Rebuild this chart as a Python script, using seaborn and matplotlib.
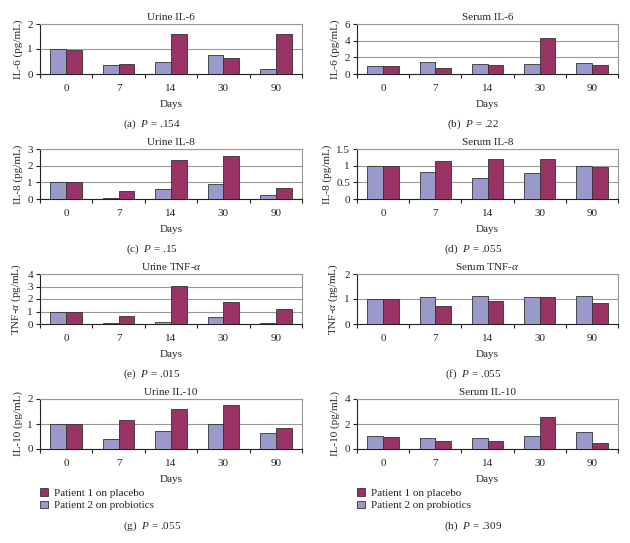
import matplotlib
matplotlib.use('Agg')
import matplotlib.pyplot as plt
import seaborn as sns
import pandas as pd
from matplotlib.ticker import FixedLocator, FuncFormatter

days = ['0', '7', '14', '30', '90']
placebo_label = 'Patient 1 on placebo'
probiotic_label = 'Patient 2 on probiotics'

# values (pg/mL, normalised to day 0)
urine_il6_probiotic = [1.00, 0.36, 0.49, 0.77, 0.20]
urine_il6_placebo = [0.98, 0.41, 1.61, 0.65, 1.61]
serum_il6_probiotic = [1.00, 1.44, 1.20, 1.20, 1.32]
serum_il6_placebo = [1.00, 0.72, 1.04, 4.30, 1.04]
urine_il8_probiotic = [1.00, 0.08, 0.60, 0.93, 0.22]
urine_il8_placebo = [1.00, 0.50, 2.35, 2.57, 0.66]
serum_il8_probiotic = [1.00, 0.82, 0.63, 0.79, 1.00]
serum_il8_placebo = [1.00, 1.14, 1.20, 1.20, 0.95]
urine_tnf_probiotic = [1.00, 0.07, 0.18, 0.55, 0.07]
urine_tnf_placebo = [1.00, 0.68, 3.02, 1.76, 1.24]
serum_tnf_probiotic = [1.00, 1.07, 1.13, 1.07, 1.13]
serum_tnf_placebo = [1.00, 0.72, 0.91, 1.07, 0.84]
urine_il10_probiotic = [1.00, 0.42, 0.73, 1.00, 0.64]
urine_il10_placebo = [1.00, 1.16, 1.62, 1.78, 0.84]
serum_il10_probiotic = [1.01, 0.88, 0.88, 1.01, 1.37]
serum_il10_placebo = [1.00, 0.63, 0.63, 2.60, 0.49]

panels = [
    ('Urine IL-6', 'IL-6 (pg/mL)', [0, 1, 2], urine_il6_probiotic, urine_il6_placebo, '(a)', '.154'),
    ('Serum IL-6', 'IL-6 (pg/mL)', [0, 2, 4, 6], serum_il6_probiotic, serum_il6_placebo, '(b)', '.22'),
    ('Urine IL-8', 'IL-8 (pg/mL)', [0, 1, 2, 3], urine_il8_probiotic, urine_il8_placebo, '(c)', '.15'),
    ('Serum IL-8', 'IL-8 (pg/mL)', [0, 0.5, 1, 1.5], serum_il8_probiotic, serum_il8_placebo, '(d)', '.055'),
    (r'Urine TNF-$\alpha$', r'TNF-$\alpha$ (pg/mL)', [0, 1, 2, 3, 4], urine_tnf_probiotic, urine_tnf_placebo, '(e)', '.015'),
    (r'Serum TNF-$\alpha$', r'TNF-$\alpha$ (pg/mL)', [0, 1, 2], serum_tnf_probiotic, serum_tnf_placebo, '(f)', '.055'),
    ('Urine IL-10', 'IL-10 (pg/mL)', [0, 1, 2], urine_il10_probiotic, urine_il10_placebo, '(g)', '.055'),
    ('Serum IL-10', 'IL-10 (pg/mL)', [0, 2, 4], serum_il10_probiotic, serum_il10_placebo, '(h)', '.309'),
]

colors = {probiotic_label: '#9999cc', placebo_label: '#993366'}

sns.set_style('white')
plt.rcParams['font.family'] = ['Liberation Serif', 'DejaVu Serif']
plt.rcParams['mathtext.fontset'] = 'custom'
plt.rcParams['mathtext.rm'] = 'Liberation Serif'
plt.rcParams['mathtext.it'] = 'Liberation Serif:italic'
plt.rcParams['font.size'] = 8

W, H = 630, 543
fig = plt.figure(figsize=(W / 100, H / 100), dpi=100)

col_left = [40, 357]
col_width = [262, 261]
col_caption = [152, 473]
row_bottom = [74, 199, 324, 449]
ax_h = 50

for i, (title, ylabel, yticks, probio, placebo, tag, pval) in enumerate(panels):
    row, col = divmod(i, 2)
    left = col_left[col] / W
    bottom = 1 - row_bottom[row] / H
    ax = fig.add_axes([left, bottom, col_width[col] / W, ax_h / H])

    df = pd.DataFrame({
        'day': days * 2,
        'patient': [probiotic_label] * 5 + [placebo_label] * 5,
        'value': probio + placebo,
    })
    sns.barplot(data=df, x='day', y='value', hue='patient', order=days,
                hue_order=[probiotic_label, placebo_label], palette=colors,
                saturation=1, width=0.6, edgecolor='#333333', linewidth=0.6,
                ax=ax, legend=(row == 3), zorder=3)

    ax.set_xlim(-0.5, 4.5)
    ax.set_ylim(yticks[0], yticks[-1])
    ax.yaxis.set_major_locator(FixedLocator(yticks))
    ax.yaxis.set_major_formatter(FuncFormatter(lambda v, p: '%g' % v))
    ax.grid(axis='y', color='#999999', linewidth=0.8, zorder=0)
    ax.set_axisbelow(True)

    for s in ['top', 'right']:
        ax.spines[s].set_color('#999999')
        ax.spines[s].set_linewidth(0.8)
    for s in ['left', 'bottom']:
        ax.spines[s].set_color('#222222')
        ax.spines[s].set_linewidth(0.8)

    ax.xaxis.set_minor_locator(FixedLocator([-0.5, 0.5, 1.5, 2.5, 3.5, 4.5]))
    ax.tick_params(axis='x', which='major', length=0, pad=7, labelsize=8)
    ax.tick_params(axis='x', which='minor', length=3, width=0.8, direction='out',
                   color='#222222', bottom=True)
    ax.tick_params(axis='y', length=3, width=0.8, direction='out', left=True,
                   color='#222222', pad=2, labelsize=8)

    ax.set_title(title, fontsize=8, pad=3)
    ax.set_xlabel('Days', fontsize=8, labelpad=5)
    ax.set_ylabel(ylabel, fontsize=8, labelpad=3)

    if row == 3:
        handles, labels = ax.get_legend_handles_labels()
        order = [labels.index(placebo_label), labels.index(probiotic_label)]
        ax.legend([handles[k] for k in order], [labels[k] for k in order],
                  loc='upper left', bbox_to_anchor=(0.0, -0.78), frameon=False,
                  fontsize=8, handlelength=0.7, handleheight=0.7,
                  handletextpad=0.6, labelspacing=0.25, borderpad=0,
                  borderaxespad=0)
        cap_y = 526
    else:
        cap_y = row_bottom[row] + 50

    fig.text(col_caption[col] / W, 1 - cap_y / H, tag + r'  $P$ = ' + pval,
             ha='center', va='center', fontsize=8)

fig.savefig('out.png', dpi=100)
